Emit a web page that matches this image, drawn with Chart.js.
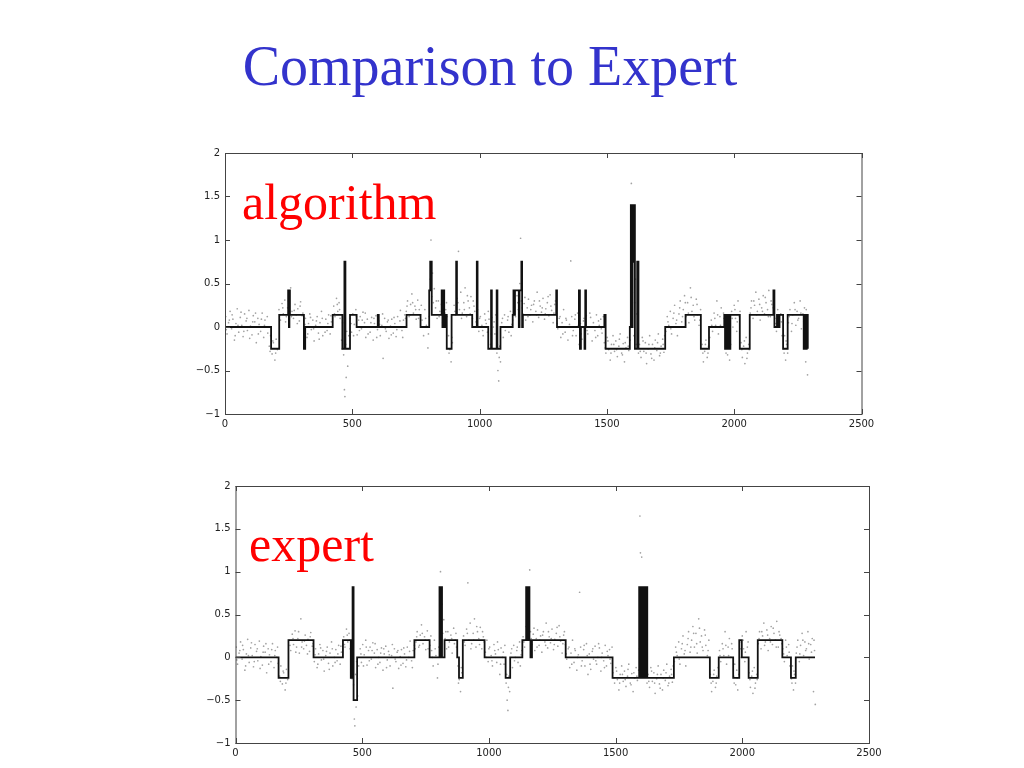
<!DOCTYPE html>
<html>
<head>
<meta charset="utf-8">
<title>Comparison to Expert</title>
<script src="https://cdn.jsdelivr.net/npm/chart.js@4.4.1/dist/chart.umd.min.js"></script>
<style>
  body { margin: 0; background: #fff; width: 1024px; height: 768px; overflow: hidden; position: relative; }
  #titulo { position: absolute; left: 0; width: 980px; top: 34px; text-align: center;
            font-family: "Liberation Serif", "Times New Roman", serif; font-size: 56px; color: #3333cc; line-height: 64px; }
  .etiqueta { position: absolute; font-family: "Liberation Serif", "Times New Roman", serif; font-size: 50px; color: #ff0000; line-height: 50px; }
  canvas { position: absolute; }
</style>
</head>
<body>
<div id="titulo">Comparison to Expert</div>
<canvas id="chartAlg" width="710" height="295" style="left:170px; top:140px;"></canvas>
<canvas id="chartExp" width="710" height="295" style="left:180px; top:473px;"></canvas>
<div class="etiqueta" style="left:242px; top:177px;">algorithm</div>
<div class="etiqueta" style="left:249px; top:519px;">expert</div>
<script>
// ticks
var xTicks = [0, 500, 1000, 1500, 2000, 2500];
var yTicks = [-1, -0.5, 0, 0.5, 1, 1.5, 2];

// raw signal (gray dots), same samples in both panels
var rawSignal = [
  [3,0.12],[8,-0.08],[14,0.05],[20,0.18],[26,-0.02],[31,0.09],[37,-0.15],[43,0.04],[48,0.21],[54,-0.06],
  [60,0.11],[66,0.02],[71,-0.11],[77,0.15],[83,0.07],[88,-0.04],[94,0.19],[100,0.01],[106,-0.09],[111,0.13],
  [117,0.06],[123,-0.18],[129,0.1],[134,0.03],[140,-0.05],[146,0.16],[152,-0.12],[157,0.08],[163,0.0],[168,-0.07],
  [174,-0.22],[179,-0.1],[185,-0.31],[190,-0.18],[196,-0.38],[201,-0.14],[206,-0.26],
  [212,0.2],[218,0.08],[224,0.27],[229,0.15],[235,0.31],[241,0.12],[246,0.22],[252,0.05],[258,0.45],[263,0.18],
  [269,0.1],[275,0.26],[280,0.14],[286,0.21],[292,0.07],[297,0.29],[303,0.13],
  [311,-0.05],[316,0.1],[322,-0.12],[328,0.04],[333,0.15],[339,-0.03],[345,0.08],[350,-0.16],[356,0.02],[362,0.12],
  [367,-0.07],[373,0.05],[379,0.18],[384,-0.1],[390,0.0],[396,0.09],[401,-0.04],[407,0.14],[413,-0.08],[418,0.06],
  [427,0.24],[432,0.12],[438,0.33],[443,0.18],[448,0.28],[452,0.1],
  [458,-0.15],[462,0.05],[466,-0.32],[469,-0.72],[471,-0.8],[474,-0.2],[478,-0.05],[482,-0.45],[486,-0.1],
  [492,0.1],[497,-0.06],[502,0.15],[508,0.03],[514,0.2],[519,-0.09],[525,0.08],[531,0.12],[536,-0.02],[542,0.17],
  [548,0.05],[553,-0.12],[559,0.09],[565,0.0],[570,-0.06],[576,0.11],[582,-0.15],[587,0.04],[593,0.13],[599,-0.03],
  [604,0.07],[610,-0.1],[616,0.02],[621,-0.36],[627,0.1],[633,-0.05],[638,0.06],[644,-0.13],[650,0.01],[655,0.09],
  [661,-0.07],[667,0.04],[672,-0.11],[678,0.12],[684,0.0],[689,0.19],[695,-0.04],[701,0.08],[706,0.14],
  [712,0.18],[717,0.3],[723,0.12],[729,0.26],[734,0.38],[740,0.16],[746,0.24],[751,0.09],[757,0.31],[763,0.2],[768,0.14],
  [774,0.08],[780,-0.1],[785,0.2],[791,0.02],[797,-0.24],[802,0.12],
  [806,0.55],[809,1.0],[812,0.35],[815,0.62],[818,0.28],[822,0.44],
  [827,0.22],[833,0.1],[838,0.3],[844,0.18],[850,0.26],[855,0.05],[861,0.34],[867,0.2],[872,0.12],
  [878,-0.1],[883,-0.26],[888,-0.4],[893,-0.18],
  [900,0.25],[906,0.14],[912,0.33],[917,0.87],[921,0.2],[926,0.4],[932,0.16],[938,0.28],[943,0.45],[949,0.12],
  [955,0.3],[960,0.22],[966,0.35],[972,0.1],[978,0.24],
  [986,0.06],[992,0.2],[997,-0.05],[1003,0.12],[1009,0.02],[1014,-0.1],[1020,0.15],[1026,0.04],[1031,-0.06],[1037,0.09],
  [1043,-0.2],[1048,0.11],[1054,0.0],[1060,-0.08],
  [1068,-0.3],[1072,-0.5],[1075,-0.62],[1079,-0.22],[1082,-0.4],
  [1087,0.05],[1093,-0.12],[1098,0.14],[1104,0.0],[1110,0.08],[1115,-0.06],[1121,0.18],[1127,0.03],
  [1135,0.24],[1141,0.12],[1147,0.36],[1152,0.2],[1158,0.5],[1161,1.02],[1164,0.3],[1170,0.15],[1175,0.27],[1181,0.08],
  [1187,0.22],[1192,0.32],[1198,0.14],[1204,0.25],[1209,0.06],[1215,0.3],[1221,0.18],[1226,0.4],[1232,0.11],[1238,0.24],
  [1243,0.17],[1249,0.33],[1255,0.09],[1260,0.21],[1266,0.28],[1272,0.13],[1277,0.37],[1283,0.19],[1289,0.05],[1295,0.26],
  [1302,0.15],[1307,-0.02],[1313,0.1],[1319,-0.12],[1324,0.05],[1330,0.2],[1336,-0.06],[1341,0.08],[1347,-0.15],[1353,0.03],
  [1358,0.76],[1362,0.12],[1368,-0.04],[1374,0.09],[1379,-0.1],[1385,0.16],[1391,-0.2],[1396,0.04],[1402,-0.14],[1408,0.07],
  [1413,-0.02],[1419,0.13],[1425,-0.08],[1430,0.0],[1436,0.11],[1442,-0.16],[1447,0.05],[1453,-0.04],[1459,0.14],[1464,-0.1],
  [1470,0.02],[1476,0.09],[1481,-0.07],[1486,0.12],
  [1490,-0.18],[1496,-0.3],[1501,-0.12],[1507,-0.26],[1513,-0.38],[1518,-0.2],[1524,-0.1],[1530,-0.28],[1535,-0.16],[1541,-0.34],
  [1547,-0.22],[1552,-0.08],[1558,-0.3],[1564,-0.19],[1569,-0.4],[1575,-0.24],[1581,-0.12],[1586,-0.27],[1591,-0.15],
  [1594,0.1],[1596,1.65],[1598,1.22],[1600,0.4],[1603,1.17],[1606,-0.1],[1609,0.28],[1612,0.55],[1615,-0.2],[1618,0.15],
  [1621,0.02],[1624,-0.3],
  [1628,-0.2],[1634,-0.35],[1639,-0.12],[1645,-0.28],[1651,-0.18],[1656,-0.42],[1662,-0.25],[1668,-0.1],[1673,-0.31],[1679,-0.2],
  [1685,-0.38],[1690,-0.15],[1696,-0.27],[1702,-0.08],[1707,-0.33],[1713,-0.22],[1719,-0.14],[1724,-0.29],
  [1732,-0.05],[1737,0.12],[1743,0.02],[1749,0.18],[1754,-0.08],[1760,0.1],[1766,0.25],[1771,0.04],[1777,-0.1],[1783,0.15],
  [1788,0.3],[1794,0.06],[1800,0.2],[1805,0.36],[1811,0.12],[1817,0.28],[1822,0.05],[1828,0.45],[1834,0.18],[1839,0.25],
  [1845,0.08],[1851,0.32],[1856,0.14],[1862,0.02],[1868,0.2],
  [1874,-0.2],[1879,-0.4],[1884,-0.28],[1889,-0.15],[1894,-0.35],[1899,-0.22],[1904,-0.12],
  [1910,0.08],[1915,-0.05],[1921,0.16],[1927,0.02],[1932,0.3],[1938,-0.08],[1944,0.12],[1949,0.22],[1955,0.0],[1960,0.1],
  [1966,-0.22],[1970,-0.08],[1974,-0.32],[1978,-0.15],[1982,-0.38],[1986,-0.2],
  [1990,0.18],[1995,0.0],[2000,0.25],[2005,0.1],[2010,-0.05],[2015,0.3],[2020,0.12],
  [2027,-0.18],[2032,-0.35],[2037,-0.22],[2042,-0.42],[2047,-0.12],[2052,-0.3],[2057,-0.2],
  [2063,0.16],[2068,0.3],[2074,0.1],[2080,0.25],[2085,0.4],[2091,0.18],[2097,0.32],[2102,0.08],[2108,0.22],[2114,0.36],
  [2119,0.15],[2125,0.28],[2131,0.2],[2136,0.42],[2142,0.12],[2148,0.26],[2153,0.22],
  [2160,0.1],[2166,-0.05],[2171,0.2],[2177,0.02],[2183,0.15],[2188,-0.1],
  [2194,-0.25],[2198,-0.1],[2202,-0.38],[2206,-0.2],[2210,-0.3],
  [2213,0.05],[2219,0.2],[2225,-0.05],[2230,0.14],[2236,0.28],[2242,0.02],[2247,0.18],[2253,0.1],[2259,0.3],[2264,-0.02],
  [2270,0.15],[2276,0.22],[2281,-0.4],[2285,0.08],[2288,-0.55],
  // more samples read between the ones above
  [5,-0.03],[17,0.08],[28,0.14],[40,-0.1],[51,0.02],[63,0.17],[74,-0.05],[86,0.1],[97,-0.13],[109,0.06],
  [120,0.16],[131,-0.08],[143,0.09],[155,0.02],[166,0.12],[177,-0.28],[188,-0.16],[199,-0.3],
  [215,0.14],[227,0.22],[238,0.06],[249,0.3],[261,0.12],[272,0.19],[284,0.04],[295,0.24],[306,0.16],
  [314,0.03],[325,-0.08],[336,0.11],[348,-0.02],[359,0.07],[370,-0.14],[382,0.1],[393,-0.06],[404,0.04],[416,0.13],
  [430,0.15],[441,0.26],[450,0.2],[460,-0.25],[476,-0.58],
  [495,0.04],[505,-0.1],[516,0.12],[528,-0.04],[539,0.08],[551,0.16],[562,-0.08],[573,0.05],[585,0.1],[596,-0.12],
  [607,0.03],[619,0.15],[630,-0.02],[641,0.08],[653,-0.09],[664,0.11],[675,-0.03],[687,0.07],[698,-0.12],[709,0.1],
  [715,0.24],[726,0.14],[737,0.28],[749,0.2],[760,0.1],[771,0.25],[777,0.0],[788,0.1],[799,-0.08],
  [830,0.3],[841,0.12],[853,0.22],[864,0.16],[870,0.28],[880,-0.3],[891,-0.12],
  [903,0.18],[915,0.28],[929,0.1],[940,0.2],[952,0.36],[963,0.15],[975,0.3],[981,0.18],
  [989,0.0],[1000,0.1],[1012,-0.04],[1023,0.08],[1034,0.18],[1046,-0.08],[1057,0.06],[1063,0.14],[1070,-0.2],[1077,-0.35],
  [1090,0.1],[1101,-0.04],[1112,0.12],[1124,-0.1],[1130,0.08],
  [1138,0.18],[1150,0.28],[1167,0.22],[1178,0.34],[1190,0.12],[1201,0.2],[1212,0.26],[1224,0.14],[1235,0.3],[1246,0.22],
  [1258,0.15],[1269,0.35],[1280,0.24],[1292,0.16],[1298,0.3],
  [1305,0.04],[1316,0.12],[1327,-0.08],[1339,0.1],[1350,0.0],[1365,-0.1],[1376,0.14],[1388,0.02],[1399,-0.08],[1410,0.1],
  [1422,-0.04],[1433,0.16],[1445,0.0],[1456,-0.12],[1467,0.07],[1478,-0.02],
  [1493,-0.24],[1504,-0.16],[1516,-0.3],[1527,-0.2],[1538,-0.26],[1549,-0.14],[1561,-0.32],[1572,-0.18],[1584,-0.22],
  [1631,-0.28],[1642,-0.16],[1654,-0.3],[1665,-0.2],[1676,-0.36],[1688,-0.24],[1699,-0.18],[1710,-0.3],[1721,-0.2],[1727,-0.1],
  [1740,0.06],[1751,-0.02],[1763,0.16],[1774,0.08],[1786,0.22],[1797,0.12],[1808,0.28],[1820,0.16],[1831,0.34],[1842,0.12],
  [1854,0.26],[1865,0.08],[1877,-0.3],[1887,-0.2],[1897,-0.3],
  [1912,0.02],[1924,0.1],[1935,0.14],[1946,0.02],[1958,0.16],[1968,-0.3],[1980,-0.24],
  [1992,0.1],[2003,0.2],[2012,0.06],[2023,0.18],[2030,-0.26],[2040,-0.16],[2050,-0.36],[2059,-0.26],
  [2066,0.22],[2077,0.3],[2088,0.14],[2100,0.26],[2111,0.18],[2122,0.34],[2134,0.12],[2145,0.3],[2156,0.16],
  [2163,0.04],[2174,0.12],[2185,0.06],[2196,-0.3],[2204,-0.16],
  [2216,0.12],[2227,0.04],[2239,0.2],[2250,0.08],[2262,0.16],[2273,0.06],[2283,0.2]
];

// algorithm segmentation: level starts at algX[i]
var algX = [0, 181, 213, 248, 251, 253, 255, 310, 315, 423, 461, 469, 473, 491, 517, 600, 604, 713, 768, 802, 806, 812,
            851, 854, 857, 861, 864, 871, 890, 908, 911, 971, 989, 992, 1034, 1045, 1048, 1067, 1070, 1082,
            1130, 1133, 1136, 1139, 1154, 1157, 1164, 1167, 1170, 1301, 1304, 1390, 1394, 1398, 1412, 1415, 1418,
            1490, 1495, 1590, 1594, 1599, 1601, 1604, 1607, 1610, 1619, 1624, 1729, 1809, 1869, 1901,
            1961, 1964, 1968, 1972, 1977, 1981, 1985, 2022, 2061, 2154, 2158, 2168, 2172, 2178, 2192, 2210,
            2273, 2277, 2281, 2285, 2289];
var algY = [0, -0.25, 0.14, 0.42, 0, 0.42, 0.14, -0.25, 0, 0.14, -0.25, 0.75, -0.25, 0.14, 0, 0.14, 0, 0.14, 0, 0.42, 0.75, 0.14,
            0.42, 0, 0.42, 0, 0.14, -0.25, 0.14, 0.75, 0.14, 0, 0.75, 0, -0.25, 0.42, -0.25, 0.42, -0.25, 0,
            0.14, 0.42, 0.14, 0.42, 0, 0.42, 0.75, 0, 0.14, 0.42, 0, 0.42, -0.25, 0, -0.25, 0.42, 0,
            0.14, -0.25, 0, 1.4, 0, 1.4, 0.75, 1.4, -0.25, 0.75, -0.25, 0, 0.14, -0.25, 0,
            0.14, -0.25, 0.14, -0.25, 0.14, -0.25, 0.14, -0.25, 0.14, 0.42, 0, 0.14, 0, 0.14, -0.25, 0.14,
            -0.25, 0.14, -0.25, 0.14, -0.25];

// expert segmentation
var expX = [0, 170, 209, 308, 424, 455, 462, 466, 480, 706, 766, 805, 810, 812, 815, 825, 875, 882, 897, 983, 1066, 1084,
            1132, 1147, 1151, 1154, 1160, 1164, 1170, 1303, 1488, 1593, 1597, 1601, 1606, 1613, 1617, 1621, 1625,
            1730, 1872, 1907, 1964, 1988, 1998, 2025, 2061, 2158, 2192, 2211, 2287];
var expY = [0, -0.24, 0.2, 0, 0.2, -0.24, 0.82, -0.5, 0, 0.2, 0, 0.82, 0, 0.82, 0, 0.2, 0, -0.24, 0.2, 0, -0.24, 0,
            0.2, 0.82, 0.2, 0.82, 0.2, 0, 0.2, 0, -0.24, 0.82, -0.24, 0.82, -0.24, 0.82, -0.24, 0.82, -0.24,
            0, -0.24, 0, -0.24, 0.2, 0, -0.24, 0.2, 0, -0.24, 0, 0];

function pares(xs, ys) {
  var out = [];
  for (var i = 0; i < xs.length; i++) out.push({ x: xs[i], y: ys[i] });
  return out;
}

// frame with inward ticks on all four sides (matlab look)
var marcoPlugin = {
  id: 'marco',
  afterDraw: function(chart) {
    var ctx = chart.ctx, a = chart.chartArea;
    var sx = chart.scales.x, sy = chart.scales.y;
    var tl = 5;
    ctx.save();
    ctx.strokeStyle = '#444';
    ctx.lineWidth = 1;
    ctx.strokeRect(a.left + 0.5, a.top + 0.5, a.right - a.left, a.bottom - a.top);
    ctx.beginPath();
    xTicks.forEach(function(v) {
      var px = Math.round(sx.getPixelForValue(v)) + 0.5;
      ctx.moveTo(px, a.bottom); ctx.lineTo(px, a.bottom - tl);
      ctx.moveTo(px, a.top); ctx.lineTo(px, a.top + tl);
    });
    yTicks.forEach(function(v) {
      var py = Math.round(sy.getPixelForValue(v)) + 0.5;
      ctx.moveTo(a.left, py); ctx.lineTo(a.left + tl, py);
      ctx.moveTo(a.right, py); ctx.lineTo(a.right - tl, py);
    });
    ctx.stroke();
    ctx.restore();
  }
};

function hacerGrafica(id, stepX, stepY, pad, yWidth, xHeight) {
  var etiq = function(v) { return String(v).replace('-', '\u2212'); };
  return new Chart(document.getElementById(id), {
    type: 'scatter',
    data: {
      datasets: [
        {
          data: pares(stepX, stepY),
          showLine: true,
          stepped: true,
          borderColor: '#111',
          borderWidth: 1.8,
          pointRadius: 0,
          fill: false
        },
        {
          data: rawSignal.map(function(p) { return { x: p[0], y: p[1] }; }),
          pointRadius: 0.85,
          pointBackgroundColor: '#a2a2a2',
          pointBorderWidth: 0
        }
      ]
    },
    options: {
      responsive: false,
      animation: false,
      layout: { padding: pad },
      plugins: { legend: { display: false }, tooltip: { enabled: false } },
      scales: {
        x: {
          type: 'linear', min: 0, max: 2500,
          afterBuildTicks: function(ax) { ax.ticks = xTicks.map(function(v) { return { value: v }; }); },
          afterFit: function(ax) { ax.height = xHeight; },
          grid: { display: false, drawTicks: false },
          border: { display: false },
          ticks: { padding: 4, color: '#222', maxRotation: 0, font: { family: 'DejaVu Sans', size: 10 }, callback: etiq }
        },
        y: {
          type: 'linear', min: -1, max: 2,
          afterBuildTicks: function(ax) { ax.ticks = yTicks.map(function(v) { return { value: v }; }); },
          afterFit: function(ax) { ax.width = yWidth; },
          grid: { display: false, drawTicks: false },
          border: { display: false },
          ticks: { padding: 5, color: '#222', font: { family: 'DejaVu Sans', size: 10 }, callback: etiq }
        }
      }
    },
    plugins: [marcoPlugin]
  });
}

hacerGrafica('chartAlg', algX, algY, { top: 13, right: 18.5, left: 0, bottom: 0 }, 55, 21);
hacerGrafica('chartExp', expX, expY, { top: 13, right: 21, left: 0, bottom: 0 }, 55.5, 25);
</script>
</body>
</html>
